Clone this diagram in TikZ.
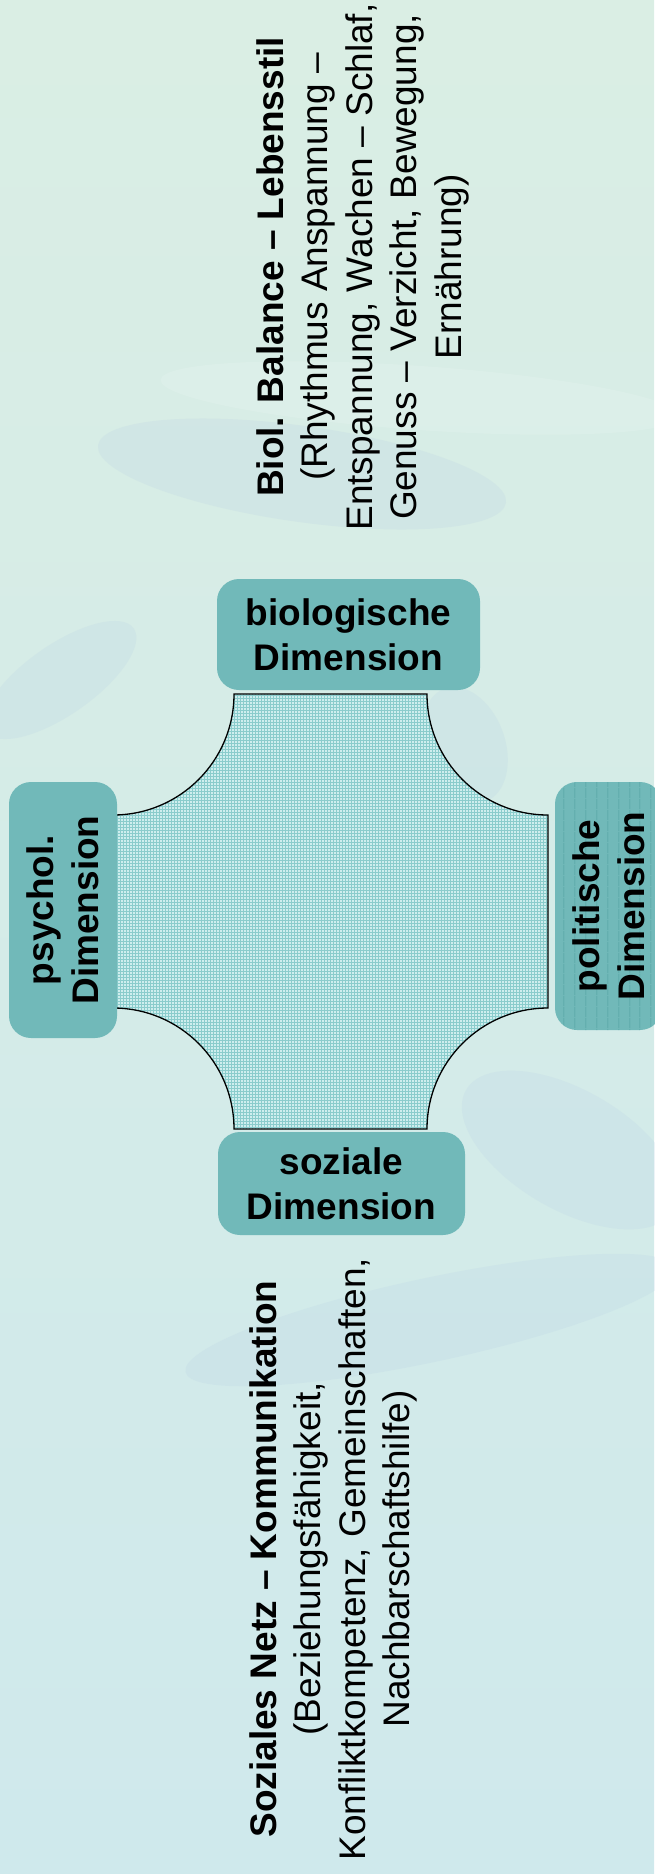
\documentclass[tikz,border=0pt]{standalone}
\usepackage{fontspec}
\setmainfont{Liberation Sans}
\usetikzlibrary{patterns,patterns.meta}

\definecolor{bgtop}{RGB}{218,238,228}
\definecolor{bgmid}{RGB}{206,234,231}
\definecolor{bgbottom}{RGB}{207,233,236}
\definecolor{swooshblue}{RGB}{182,206,228}
\definecolor{boxteal}{RGB}{113,185,185}
\definecolor{stripeteal}{RGB}{78,158,158}
\definecolor{crosslight}{RGB}{206,238,238}
\definecolor{gridteal}{RGB}{138,204,204}

\newcommand{\dimfont}{\bfseries\fontsize{37}{45}\selectfont}
\newcommand{\notefont}{\fontsize{37}{44.5}\selectfont}

\tikzset{
    dimbox/.style={fill=boxteal, rounded corners=22pt, align=center, font=\dimfont, inner sep=0pt},
    stripes/.style={postaction={pattern color=stripeteal, pattern={Lines[angle=90, distance=10.5pt, line width=0.6pt]}}},
    notetext/.style={align=center, font=\notefont, rotate=90, inner sep=0pt},
    crossshape/.style={draw=black, line width=1.3pt, preaction={fill=crosslight}, pattern=grid, pattern color=gridteal},
    swoosh/.style={fill=swooshblue, opacity=0.2},
    lightswoosh/.style={fill=white, opacity=0.12},
}

\begin{document}
\begin{tikzpicture}[x=1pt, y=1pt]
                        \useasboundingbox (0,0) rectangle (654,-1874);
                        \shade[top color=bgtop, middle color=bgmid, bottom color=bgbottom] (0,0) rectangle (654,-1874);

                        % faint background swooshes
                        \fill[lightswoosh, rotate around={-4:(420,-398)}] (420,-398) ellipse [x radius=260, y radius=32];
                        \fill[swoosh, rotate around={-8:(302,-474)}] (302,-474) ellipse [x radius=206, y radius=48];
                        \fill[swoosh, rotate around={35:(60,-680)}] (60,-680) ellipse [x radius=90, y radius=35];
                        \fill[swoosh, rotate around={20:(465,-745)}] (465,-745) ellipse [x radius=40, y radius=60];
                        \fill[swoosh, rotate around={-30:(570,-1150)}] (570,-1150) ellipse [x radius=120, y radius=60];
                        \fill[swoosh, rotate around={12:(430,-1320)}] (430,-1320) ellipse [x radius=250, y radius=42];

                        \draw[crossshape] (234,-694) -- (427,-694)
                            arc[start angle=180, end angle=270, radius=121] -- (548,-1008)
                            arc[start angle=90, end angle=180, radius=121] -- (234,-1129)
                            arc[start angle=0, end angle=90, radius=121] -- (113,-815)
                            arc[start angle=270, end angle=360, radius=121] -- cycle;

                        \foreach \n/\x/\y/\w/\h/\a/\t in {%
                            bio/348.5/634.5/263/111/0/{biologische\\Dimension},
                            soz/341.5/1183.5/247/103/0/{soziale\\Dimension},
                            psy/63/910/256/108/90/{psychol.\\Dimension}%
                            }{
                            \node[dimbox, rotate=\a, minimum width=\w, minimum height=\h] (\n) at (\x,-\y) {\t};
                        }

                        \node[dimbox, stripes, rotate=90, minimum width=248, minimum height=107] (pol) at (608.5,-906) {politische\\Dimension};

                        \node[notetext] (biolnote) at (362.5,-267) {\textbf{Biol. Balance – Lebensstil}\\(Rhythmus Anspannung –\\Entspannung, Wachen – Schlaf,\\Genuss – Verzicht, Bewegung,\\Ernährung)};
                        \node[notetext] (soznote) at (333.5,-1559) {\textbf{Soziales Netz – Kommunikation}\\(Beziehungsfähigkeit,\\Konfliktkompetenz, Gemeinschaften,\\Nachbarschaftshilfe)};

                    \end{tikzpicture}
\end{document}
